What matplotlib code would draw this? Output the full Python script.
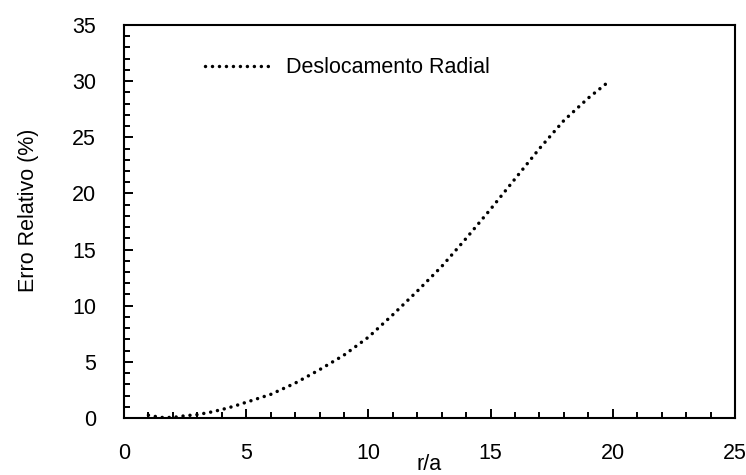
import matplotlib
matplotlib.use("Agg")
import matplotlib.pyplot as plt
from matplotlib.ticker import MultipleLocator

# valores
r_a = [1.0, 1.5, 2.0, 2.5, 3.0, 3.5, 4.0, 4.5, 5.0, 6.0, 7.0, 8.0, 9.0,
       10.0, 11.0, 12.0, 13.0, 14.0, 15.0, 16.0, 17.0, 18.0, 19.0, 19.8]
erro = [0.25, 0.05, 0.05, 0.2, 0.3, 0.5, 0.75, 1.05, 1.4, 2.1, 3.1, 4.3, 5.6,
        7.2, 9.2, 11.3, 13.5, 16.0, 18.6, 21.3, 24.0, 26.5, 28.5, 29.9]

plt.rcParams['font.family'] = ['Liberation Sans', 'DejaVu Sans']
FS = 15.5

fig = plt.figure(figsize=(7.46, 4.75), dpi=100)
ax = fig.add_axes([0.1662, 0.12, 0.8191, 0.8274])

ax.plot(r_a, erro, color='black', linewidth=2.5,
        linestyle=(0, (0.01, 2.0)), dash_capstyle='round',
        label='Deslocamento Radial')

ax.set_xlim(0, 25)
ax.set_ylim(0, 35)
ax.xaxis.set_major_locator(MultipleLocator(5))
ax.xaxis.set_minor_locator(MultipleLocator(1))
ax.yaxis.set_major_locator(MultipleLocator(5))
ax.yaxis.set_minor_locator(MultipleLocator(1))

for s in ax.spines.values():
    s.set_linewidth(1.5)

ax.tick_params(axis='both', which='both', direction='in', width=1.4,
               top=False, right=False)
ax.tick_params(axis='both', which='major', length=6.5, labelsize=FS)
ax.tick_params(axis='both', which='minor', length=4.5)
ax.tick_params(axis='x', which='major', pad=18)
ax.tick_params(axis='y', which='major', pad=20)

ax.set_xlabel('r/a', fontsize=FS)
ax.xaxis.set_label_coords(0.5, -0.132)
ax.xaxis.label.set_va('baseline')
ax.set_ylabel('Erro Relativo (%)', fontsize=FS)
ax.yaxis.set_label_coords(-0.157, 0.528)
ax.yaxis.label.set_va('center')

ax.legend(loc='center left', bbox_to_anchor=(0.1326, 0.8906), frameon=False,
          fontsize=FS, handlelength=3.2, handletextpad=0.55,
          borderpad=0, borderaxespad=0)

fig.savefig('out.png', dpi=100)
